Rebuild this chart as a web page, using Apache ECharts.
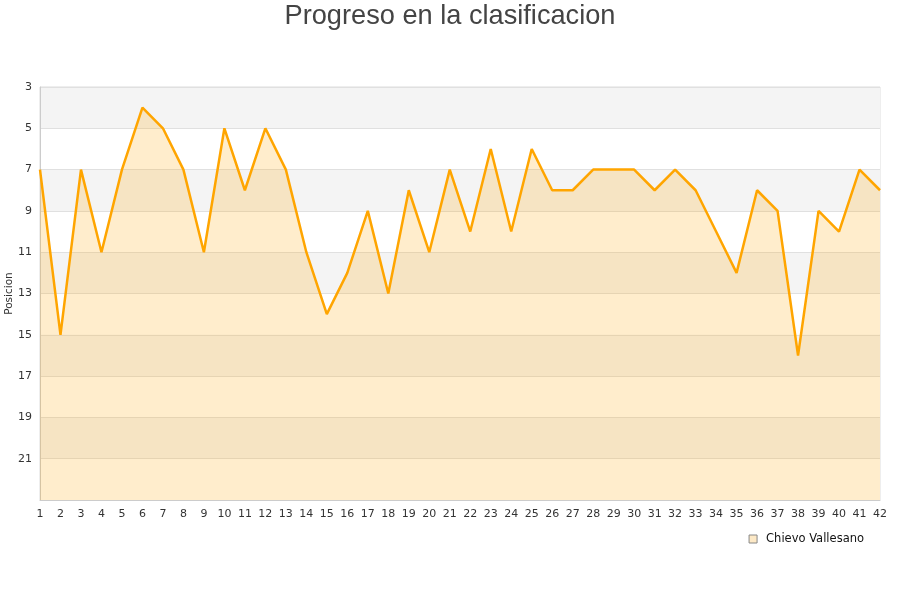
<!DOCTYPE html>
<html>
<head>
<meta charset="utf-8">
<script src="https://cdn.jsdelivr.net/npm/echarts@6/dist/echarts.min.js"></script>
<style>
  html, body { margin: 0; padding: 0; background: #fff; }
  #chart { width: 900px; height: 600px; }
</style>
</head>
<body>
<div id="chart"></div>
<script>
// jornadas 1..42
var jornadas = [];
for (var j = 1; j <= 42; j++) jornadas.push(String(j));

// posicion por jornada
var posiciones = [7, 15, 7, 11, 7, 4, 5, 7, 11, 5, 8, 5, 7, 11, 14, 12, 9, 13, 8, 11,
                  7, 10, 6, 10, 6, 8, 8, 7, 7, 7, 8, 7, 8, 10, 12, 8, 9, 16, 9, 10,
                  7, 8];

var equipo = 'Chievo Vallesano';

var myChart = echarts.init(document.getElementById('chart'));

var option = {
  backgroundColor: '#fff',
  animation: false,
  textStyle: { fontFamily: 'DejaVu Sans' },
  title: {
    text: 'Progreso en la clasificacion',
    left: 'center',
    top: -2,
    textStyle: {
      fontFamily: 'Liberation Sans',
      fontSize: 27.2,
      fontWeight: 'normal',
      color: '#444'
    }
  },
  legend: {
    right: 31,
    top: 528,
    itemWidth: 8,
    itemHeight: 8,
    icon: 'rect',
    textStyle: { color: '#111', fontSize: 11.5, padding: [0, 0, 0, 4] },
    data: [{
      name: equipo,
      itemStyle: { color: '#fde9c6', borderColor: '#888', borderWidth: 1 }
    }]
  },
  grid: {
    left: 40,
    right: 20,
    top: 87,
    bottom: 100,
    containLabel: false,
    outerBoundsMode: 'none',
    show: true,
    borderColor: '#dddddd',
    borderWidth: 1
  },
  xAxis: {
    type: 'category',
    data: jornadas,
    boundaryGap: false,
    axisLine: { show: true, lineStyle: { color: '#cccccc' } },
    axisTick: { show: false },
    axisLabel: { color: '#333', fontSize: 11, margin: 9, interval: 0 },
    splitLine: { show: false }
  },
  yAxis: {
    type: 'value',
    inverse: true,
    min: 3,
    max: 23,
    interval: 2,
    name: 'Posicion',
    nameLocation: 'middle',
    nameGap: 25,
    nameMoveOverlap: false,
    nameTextStyle: { color: '#333', fontSize: 10.5 },
    axisLine: { show: true, lineStyle: { color: '#cccccc' } },
    axisTick: { show: false },
    axisLabel: { color: '#333', fontSize: 11, margin: 8, showMaxLabel: false },
    splitLine: { show: true, lineStyle: { color: '#e0e0e0' } },
    splitArea: { show: true, areaStyle: { color: ['#f4f4f4', '#ffffff'] } }
  },
  series: [{
    name: equipo,
    type: 'line',
    data: posiciones,
    symbol: 'none',
    lineStyle: { color: '#ffa500', width: 2.5 },
    itemStyle: { color: '#ffa500' },
    areaStyle: { color: '#ffa500', opacity: 0.2, origin: 'end' }
  }]
};

myChart.setOption(option);
</script>
</body>
</html>
